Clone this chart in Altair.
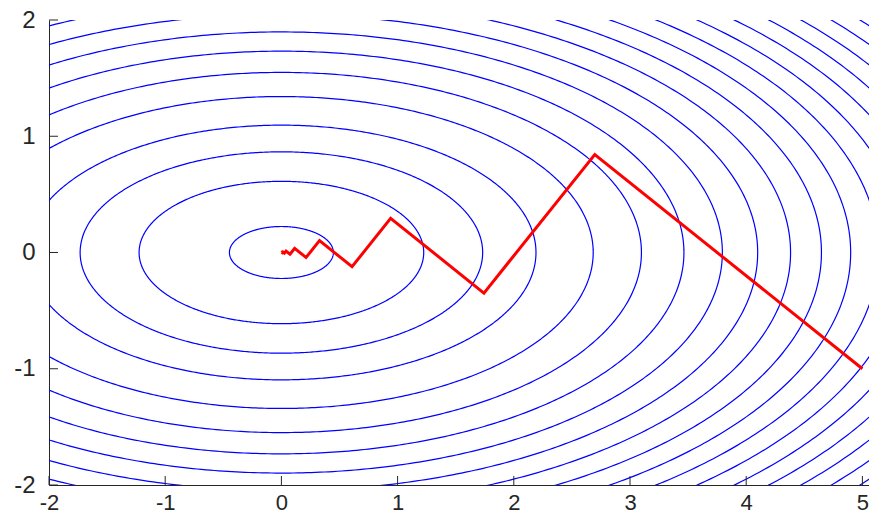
import altair as alt
import pandas as pd

# Contour levels of f(x, y) = x^2 + 4 y^2
levels = [0.2, 1.5, 3.0, 4.8, 7.2, 9.6, 12.0, 14.4, 16.8, 19.2, 21.6, 24.0,
          26.4, 28.8, 31.2, 33.6, 36.0, 38.4, 40.8]

# Descent path
path_x = [5.0, 2.697, 1.743, 0.940, 0.608, 0.328, 0.212, 0.114, 0.074, 0.040,
          0.026, 0.014, 0.009, 0.005, 0.003, 0.0]
path_y = [-1.0, 0.842, -0.349, 0.294, -0.122, 0.102, -0.043, 0.036, -0.015, 0.012,
          -0.005, 0.004, -0.002, 0.0015, -0.0006, 0.0]

x_ticks = [-2, -1, 0, 1, 2, 3, 4, 5]
y_ticks = [-2, -1, 0, 1, 2]

W, H = 820, 465
AX = "#262626"
FONT = "Liberation Sans"

xs = alt.Scale(domain=[-2, -2 + W / 116.2], nice=False, zero=False)
ys = alt.Scale(domain=[-2, 2], nice=False, zero=False)

lev_df = pd.DataFrame({"L": levels})
path_df = pd.DataFrame({"x": path_x, "y": path_y, "i": list(range(len(path_x)))})

contours = (
    alt.Chart(lev_df)
    .transform_calculate(t="sequence(0, 2*PI + 0.02, 0.01)")
    .transform_flatten(["t"])
    .transform_calculate(
        cx="sqrt(datum.L) * cos(datum.t)",
        cy="sqrt(datum.L) / 2 * sin(datum.t)",
    )
    .mark_line(color="#0000FF", strokeWidth=1.2, clip=True)
    .encode(
        x=alt.X("cx:Q", scale=xs,
                axis=alt.Axis(values=x_ticks, labelExpr="'' + datum.value",
                              title=None, grid=False,
                              tickSize=0, labelFontSize=22, labelFont=FONT,
                              labelColor=AX, labelPadding=7, domainColor=AX,
                              domainWidth=1, labelFlush=False)),
        y=alt.Y("cy:Q", scale=ys,
                axis=alt.Axis(values=y_ticks, labelExpr="'' + datum.value",
                              title=None, grid=False,
                              tickSize=0, labelFontSize=24, labelFont=FONT,
                              labelColor=AX, labelPadding=14, domainColor=AX,
                              domainWidth=1, labelFlush=False)),
        detail="L:N",
        order="t:Q",
    )
)

path = (
    alt.Chart(path_df)
    .mark_line(color="#FF0000", strokeWidth=3, clip=True)
    .encode(x=alt.X("x:Q", scale=xs), y=alt.Y("y:Q", scale=ys), order="i:Q")
)

xt = (
    alt.Chart(pd.DataFrame({"v": x_ticks}))
    .mark_rule(color=AX, strokeWidth=1)
    .encode(x=alt.X("v:Q", scale=xs), y=alt.value(H), y2=alt.value(H - 9))
)
yt = (
    alt.Chart(pd.DataFrame({"v": y_ticks}))
    .mark_rule(color=AX, strokeWidth=1)
    .encode(y=alt.Y("v:Q", scale=ys), x=alt.value(0), x2=alt.value(9))
)

chart = (
    alt.layer(contours, path, xt, yt)
    .properties(width=W, height=H,
                autosize=alt.AutoSizeParams(type="none"),
                padding={"left": 41, "top": 12, "right": 0, "bottom": 29})
    .configure_view(stroke=None)
)

chart.save("out.html", embed_options={"renderer": "svg", "actions": False})
